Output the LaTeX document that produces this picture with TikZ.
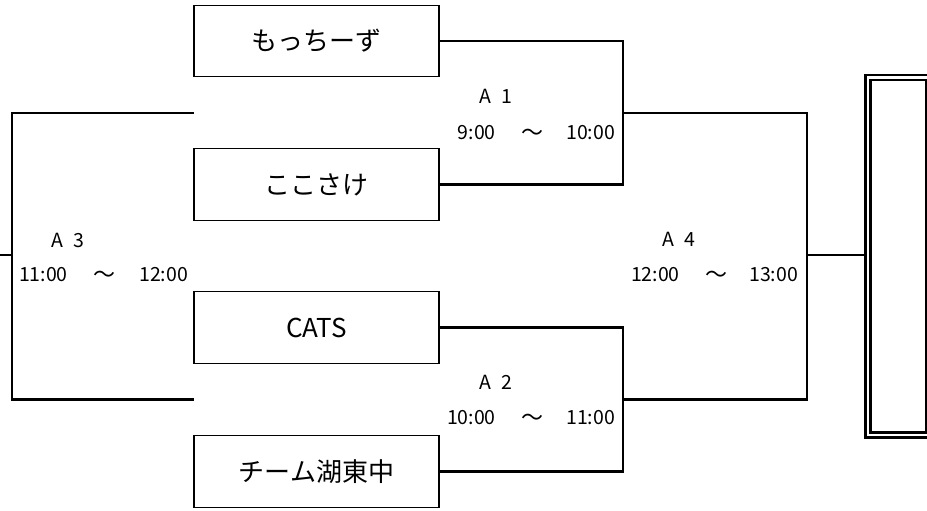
\documentclass[tikz,border=0pt]{standalone}
\usepackage{fontspec}
\newfontfamily\jp{Noto Sans CJK JP}
\begin{document}
\begin{tikzpicture}[x=1pt,y=-1pt,
  team/.style={draw, line width=1.3pt, minimum width=245pt, minimum height=71.5pt, inner sep=0pt, font=\jp\fontsize{26}{30}\selectfont},
  tm/.style={inner sep=0pt, font=\jp\fontsize{19.5}{22}\selectfont},
  wave/.style={inner sep=0pt, font=\jp\fontsize{22}{24}\selectfont},
  bracket/.style={line width=2.8pt, line join=miter},
  winner/.style={draw, double, line width=2.5pt, double distance=2.2pt, inner sep=0pt}]
\useasboundingbox (0,0) rectangle (927,511);
\clip (0,0) rectangle (927,511);
% teams
\node[team] (t1) at (316.5,41) {もっちーず};
\node[team] (t2) at (316.5,184.5) {ここさけ};
\node[team] (t3) at (316.5,327.5) {CATS};
\node[team] (t4) at (316.5,471.5) {チーム湖東中};
% winner box
\node[winner, minimum width=60.5pt, minimum height=357.5pt] (w) at (898.25,256.25) {};
% junction coordinates
\coordinate (m1) at (623,113);
\coordinate (m2) at (623,399.5);
\coordinate (f) at (807,255);
\coordinate (l1) at (194,113);
\coordinate (l3) at (194,399.5);
\coordinate (m3) at (12,255);
\coordinate (s) at (0,255);
% brackets
\draw[bracket] (t1.east) -| (m1) |- (t2.east);
\draw[bracket] (t3.east) -| (m2) |- (t4.east);
\draw[bracket] (m1) -| (f) |- (m2);
\draw[bracket] (f) -- (f -| w.west);
\draw[bracket] (l1) -| (m3) |- (l3);
\draw[bracket] (m3) -- (s);
% labels A1
\node[tm, anchor=base west] (a1) at (479,103.5) {A\hspace{0.55em}1};
\node[tm, anchor=base east] (a1s) at (496,139.5) {9:00};
\node[wave, anchor=base] (a1t) at (532,140.5) {～};
\node[tm, anchor=base west] (a1e) at (566,139.5) {10:00};
% A2
\node[tm, anchor=base west] (a2) at (479,389.5) {A\hspace{0.55em}2};
\node[tm, anchor=base east] (a2s) at (496,424.5) {10:00};
\node[wave, anchor=base] (a2t) at (532,425.5) {～};
\node[tm, anchor=base west] (a2e) at (566,424.5) {11:00};
% A3
\node[tm, anchor=base west] (a3) at (51,247.5) {A\hspace{0.55em}3};
\node[tm, anchor=base east] (a3s) at (68,281.5) {11:00};
\node[wave, anchor=base] (a3t) at (104,282.5) {～};
\node[tm, anchor=base west] (a3e) at (139,281.5) {12:00};
% A4
\node[tm, anchor=base west] (a4) at (662,246.5) {A\hspace{0.55em}4};
\node[tm, anchor=base east] (a4s) at (680,281.5) {12:00};
\node[wave, anchor=base] (a4t) at (716,282.5) {～};
\node[tm, anchor=base west] (a4e) at (749,281.5) {13:00};
\end{tikzpicture}
\end{document}
